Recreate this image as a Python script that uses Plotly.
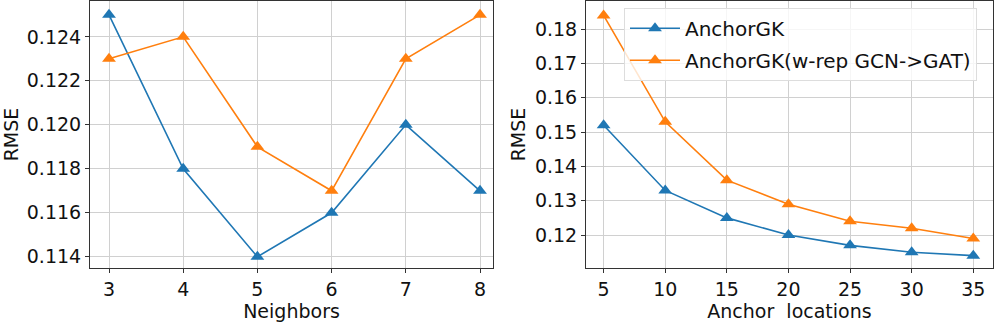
import plotly.graph_objects as go
from plotly.subplots import make_subplots

neighbors = [3, 4, 5, 6, 7, 8]
nb_anchorgk = [0.125, 0.118, 0.114, 0.116, 0.120, 0.117]
nb_gat = [0.123, 0.124, 0.119, 0.117, 0.123, 0.125]

anchors = [5, 10, 15, 20, 25, 30, 35]
an_anchorgk = [0.152, 0.133, 0.125, 0.120, 0.117, 0.115, 0.114]
an_gat = [0.184, 0.153, 0.136, 0.129, 0.124, 0.122, 0.119]

names = ["AnchorGK", "AnchorGK(w-rep GCN->GAT)"]
BLUE = "#1f77b4"
ORANGE = "#ff7f0e"

W, H = 996, 323
fig = make_subplots(rows=1, cols=2)

def add(x, y, name, color, col, show):
    fig.add_trace(go.Scatter(
        x=x, y=y, name=name, mode="lines+markers",
        line=dict(color=color, width=1.6),
        marker=dict(symbol="triangle-up", size=12, color=color),
        showlegend=show, legendgroup=name,
    ), row=1, col=col)

add(neighbors, nb_anchorgk, names[0], BLUE, 1, False)
add(neighbors, nb_gat, names[1], ORANGE, 1, False)
add(anchors, an_anchorgk, names[0], BLUE, 2, True)
add(anchors, an_gat, names[1], ORANGE, 2, True)

axis_common = dict(
    showgrid=True, gridcolor="#d0d0d0", gridwidth=1,
    showline=True, linecolor="#333333", linewidth=1, mirror=True,
    ticks="outside", ticklen=4, tickcolor="#333333",
    tickfont=dict(family="DejaVu Sans", size=19, color="#111111"),
    zeroline=False, automargin=False,
)
title_font = dict(family="DejaVu Sans", size=19, color="#111111")

fig.update_xaxes(axis_common)
fig.update_yaxes(axis_common)

fig.update_layout(
    width=W, height=H,
    margin=dict(l=0, r=0, t=1, b=55),
    plot_bgcolor="white", paper_bgcolor="white",
    font=dict(family="DejaVu Sans", color="#111111"),
    xaxis=dict(domain=[90/W, 493/W], range=[2.744, 8.175], tickvals=neighbors,
               title=dict(text="Neighbors", font=title_font, standoff=1)),
    yaxis=dict(range=[0.11349, 0.12563], dtick=0.002, tick0=0.114, tickformat=".3f",
               title=dict(text="RMSE", font=title_font, standoff=4)),
    xaxis2=dict(domain=[586/W, 993/W], range=[3.57, 36.6], tickvals=anchors,
                title=dict(text="Anchor  locations", font=title_font, standoff=1)),
    yaxis2=dict(range=[0.1104, 0.1882], dtick=0.01, tick0=0.12, tickformat=".2f",
                title=dict(text="RMSE", font=title_font, standoff=4)),
    legend=dict(
        x=624/W, y=0.975, xanchor="left", yanchor="top",
        bgcolor="rgba(255,255,255,0.8)", bordercolor="#dddddd", borderwidth=1,
        font=dict(family="DejaVu Sans", size=20, color="#111111"),
        tracegroupgap=3, traceorder="grouped", itemwidth=50,
    ),
)

fig.write_html("out.html", config={"displayModeBar": False},
               post_script="document.body.style.margin='0';document.body.style.overflow='hidden';")
